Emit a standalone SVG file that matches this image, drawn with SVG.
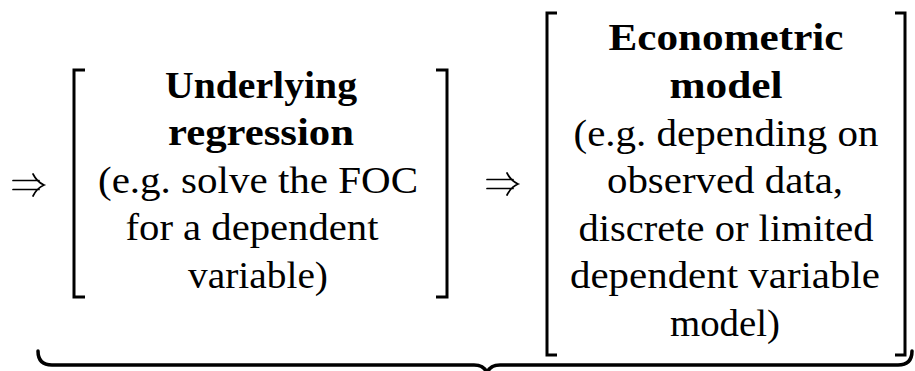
<svg xmlns="http://www.w3.org/2000/svg" width="915" height="371" viewBox="0 0 915 371">
<style>
.t{font-family:"Liberation Serif","Times New Roman",serif;font-size:37px;fill:#000;text-anchor:middle}
.b{font-weight:bold}
.arr{fill:none;stroke:#000;stroke-width:1.7;stroke-linecap:round}
.br{fill:none;stroke:#000;stroke-width:3}
.brace{fill:none;stroke:#000;stroke-width:3.5;stroke-linecap:round}
</style>
<defs>
<path id="dbl" class="arr" d="M0,-4.5 H26 M0,4.5 H26 M20,-11 Q24,-3 31,0 Q24,3 20,11"/>
</defs>
<rect width="915" height="371" fill="#fff"/>
<g id="connectors">
<use href="#dbl" x="13" y="185"/>
<use href="#dbl" x="487" y="184"/>
<path class="brace" d="M38,351 Q38,365 52,365 L474,365 Q485,365 487,374 Q489,365 500,365 L898,365 Q912,365 912,351"/>
</g>
<g id="underlying">
<path class="br" d="M85,70 H74 V297 H85"/>
<path class="br" d="M436,70 H447 V297 H436"/>
<text class="t b" x="261" y="98" textLength="192" lengthAdjust="spacingAndGlyphs">Underlying</text>
<text class="t b" x="261" y="145" textLength="186" lengthAdjust="spacingAndGlyphs">regression</text>
<text class="t" x="258" y="193" textLength="320" lengthAdjust="spacingAndGlyphs">(e.g. solve the FOC</text>
<text class="t" x="252" y="240" textLength="253" lengthAdjust="spacingAndGlyphs">for a dependent</text>
<text class="t" x="258" y="288" textLength="140" lengthAdjust="spacingAndGlyphs">variable)</text>
</g>
<g id="econometric">
<path class="br" d="M557,13 H547 V355 H557"/>
<path class="br" d="M895,13 H905 V355 H895"/>
<text class="t b" x="726" y="50" textLength="235" lengthAdjust="spacingAndGlyphs">Econometric</text>
<text class="t b" x="726" y="98" textLength="113" lengthAdjust="spacingAndGlyphs">model</text>
<text class="t" x="726" y="146" textLength="305" lengthAdjust="spacingAndGlyphs">(e.g. depending on</text>
<text class="t" x="725" y="193" textLength="236" lengthAdjust="spacingAndGlyphs">observed data,</text>
<text class="t" x="726" y="241" textLength="295" lengthAdjust="spacingAndGlyphs">discrete or limited</text>
<text class="t" x="725" y="288" textLength="310" lengthAdjust="spacingAndGlyphs">dependent variable</text>
<text class="t" x="725" y="336" textLength="110" lengthAdjust="spacingAndGlyphs">model)</text>
</g>
</svg>
